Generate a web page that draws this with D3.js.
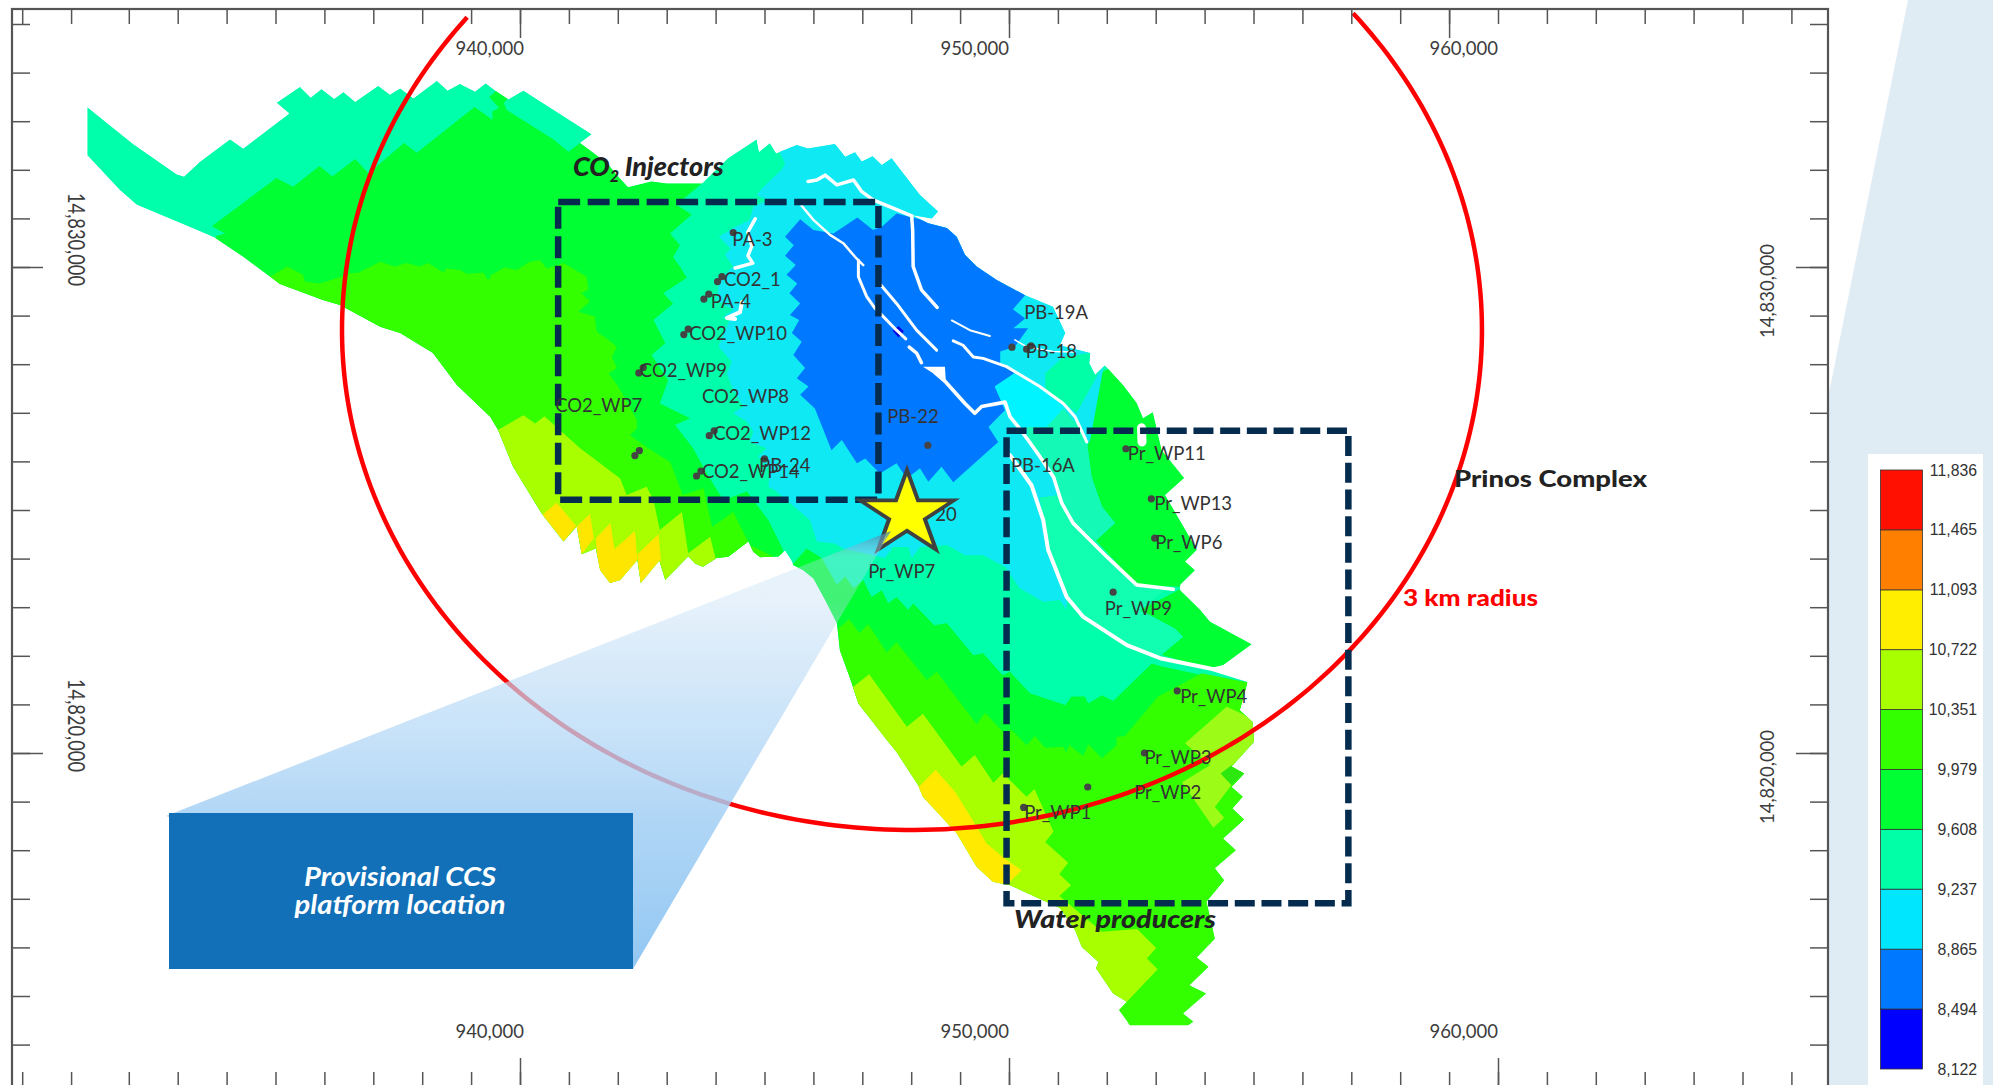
<!DOCTYPE html>
<html>
<head>
<meta charset="utf-8">
<title>Prinos CCS map</title>
<script src="https://cdn.jsdelivr.net/npm/d3@7"></script>
<style>
	html, body { margin: 0; padding: 0; background: #fff; overflow: hidden; }
	text { font-family: Lato, "Noto Sans", sans-serif; }
	.well-label { font-size: 18.5px; fill: #333; }
	.tick-label { font-size: 18.5px; fill: #3c3c3c; }
	.legend-label { font-family: "Liberation Sans", sans-serif; font-size: 15.8px; fill: #333; }
	.fault { fill: none; stroke: #fff; stroke-linejoin: round; stroke-linecap: round; }
</style>
</head>
<body>
<div id="map"></div>
<script>
// grid ticks, metres
const xTicks = [929820, 930820].concat(d3.range(932000, 967000, 1000));
const xTopMajor = [940000, 950000, 959000];
const xBottomMajor = [940000, 950000, 960000];
const xLabels = [940000, 950000, 960000];
const yTicks = d3.range(14835000, 14812000, -1000);
const yMajor = [14830000, 14820000];

// depth legend
const legendBreaks = [8122, 8494, 8865, 9237, 9608, 9979, 10351, 10722, 11093, 11465, 11836];
const legendColors = ['#0000ff', '#0078ff', '#00e6ff', '#00ffa6', '#00ff33', '#33ff00', '#a8ff00', '#ffee00', '#ff8000', '#ff1000'];

// all map polygons: km east of 940,000 and km north of 14,830,000
const fieldOutline = [[-8.85,3.29],[-7.91,2.53],[-7.02,1.91],[-6.87,1.86],[-6.54,2.17],[-5.93,2.63],[-5.66,2.44],[-4.72,3.16],[-4.98,3.38],[-4.50,3.71],[-4.28,3.49],[-4.06,3.66],[-3.80,3.46],[-3.61,3.60],[-3.37,3.40],[-2.90,3.73],[-2.66,3.55],[-2.45,3.68],[-2.18,3.47],[-1.70,3.83],[-1.48,3.63],[-1.23,3.77],[-0.92,3.61],[-0.70,3.78],[-0.48,3.61],[-0.24,3.45],[0.07,3.63],[1.47,2.73],[1.23,2.55],[1.79,2.13],[1.98,1.89],[2.21,1.64],[2.69,1.76],[3.00,1.72],[3.72,1.72],[4.25,2.24],[4.84,2.63],[4.89,2.37],[5.11,2.55],[5.24,2.34],[5.66,2.51],[5.89,2.44],[6.44,2.53],[6.65,2.27],[6.85,2.36],[6.99,2.17],[7.21,2.28],[7.40,2.10],[7.60,2.24],[7.91,1.83],[8.18,1.48],[8.55,1.14],[8.42,1.00],[8.01,1.07],[8.35,0.90],[8.73,0.80],[8.93,0.62],[9.10,0.25],[9.34,0.01],[9.75,-0.27],[10.33,-0.58],[10.90,-0.82],[11.15,-1.36],[11.04,-1.61],[11.66,-1.77],[11.64,-1.98],[11.76,-2.22],[11.96,-2.02],[12.33,-2.43],[12.61,-2.80],[12.74,-3.11],[12.94,-2.99],[13.12,-3.77],[13.58,-4.34],[13.19,-4.69],[13.84,-5.82],[13.60,-6.06],[13.80,-6.24],[13.50,-6.54],[13.50,-6.65],[13.91,-7.06],[14.11,-7.30],[14.96,-7.76],[14.38,-8.19],[14.11,-8.25],[14.89,-8.50],[14.72,-9.12],[14.98,-9.36],[15.01,-9.77],[14.55,-10.28],[14.81,-10.42],[14.55,-10.70],[14.78,-10.90],[14.57,-11.14],[14.81,-11.37],[14.38,-11.76],[14.64,-12.00],[14.21,-12.37],[14.40,-12.62],[14.04,-13.06],[14.21,-13.82],[13.84,-14.21],[14.08,-14.40],[13.69,-14.78],[14.03,-14.95],[13.56,-15.36],[13.77,-15.53],[13.66,-15.60],[12.47,-15.60],[12.41,-15.51],[12.25,-15.29],[12.41,-15.12],[12.13,-14.95],[11.78,-14.43],[11.83,-14.30],[11.49,-13.99],[11.35,-13.64],[11.04,-13.19],[10.02,-12.72],[9.67,-12.65],[9.34,-12.34],[8.93,-11.65],[8.24,-10.90],[8.14,-10.66],[7.70,-9.98],[7.50,-9.73],[6.92,-8.98],[6.75,-8.46],[6.54,-7.88],[6.48,-7.33],[6.24,-6.85],[6.00,-6.41],[5.79,-6.24],[5.58,-6.13],[5.56,-6.06],[5.42,-5.84],[5.28,-5.96],[4.91,-5.97],[4.77,-5.86],[4.67,-5.65],[4.26,-5.96],[4.02,-5.99],[3.74,-6.17],[3.58,-6.10],[3.44,-5.95],[2.97,-6.44],[2.85,-6.04],[2.47,-6.50],[2.40,-6.03],[2.05,-6.44],[1.84,-6.50],[1.64,-6.24],[1.55,-5.79],[1.26,-5.91],[1.16,-5.34],[0.89,-5.65],[0.46,-5.10],[-0.14,-4.11],[-0.45,-3.35],[-0.61,-3.08],[-1.29,-2.43],[-1.78,-1.77],[-2.45,-1.36],[-2.86,-1.23],[-3.68,-0.78],[-4.03,-0.68],[-4.91,-0.35],[-5.66,0.21],[-6.24,0.60],[-6.61,0.76],[-7.84,1.28],[-8.18,1.58],[-8.85,2.30]];

const green9979NW = [[-6.24,0.56],[-6.22,0.64],[-6.03,0.69],[-6.30,0.84],[-4.98,1.83],[-4.64,1.65],[-4.10,2.08],[-3.84,1.86],[-3.37,2.22],[-3.10,1.93],[-2.90,2.10],[-2.37,2.55],[-2.11,2.35],[-0.93,3.29],[-0.56,3.03],[-0.57,3.20],[-0.43,3.27],[-0.63,3.50],[-0.48,3.63],[-0.24,3.47],[-0.33,3.37],[-0.27,3.23],[0.68,2.63],[0.99,2.37],[1.23,2.55],[2.45,2.41],[3.72,1.89],[3.72,1.72],[3.20,1.28],[3.51,1.08],[3.07,0.69],[3.27,0.45],[3.13,0.20],[3.27,0.01],[3.41,-0.22],[2.93,-0.54],[3.13,-0.75],[2.73,-1.09],[2.97,-1.57],[2.69,-1.81],[3.03,-2.33],[2.86,-2.81],[3.48,-3.11],[3.17,-3.25],[3.54,-3.73],[3.82,-4.25],[4.16,-4.80],[4.64,-4.62],[5.08,-5.21],[5.38,-5.82],[5.52,-7.26],[-0.41,-6.85],[-6.54,-0.68]];
const green9979E = [[11.83,-2.19],[11.38,-3.01],[11.59,-3.58],[11.69,-4.32],[11.90,-4.93],[12.17,-5.27],[11.78,-5.63],[12.61,-6.54],[13.50,-6.58],[15.95,-4.79],[12.88,-1.71]];
const green9979SE = [[13.50,-6.63],[12.68,-7.06],[13.39,-7.44],[13.56,-7.61],[13.12,-7.98],[14.11,-8.29],[15.95,-7.88],[14.93,-6.65]];
const green9979S = [[5.58,-6.11],[5.86,-5.79],[6.17,-5.99],[6.48,-6.54],[6.65,-6.37],[6.82,-6.61],[7.02,-6.44],[7.19,-6.79],[7.40,-6.65],[7.53,-6.92],[7.70,-6.79],[7.94,-7.06],[8.04,-6.92],[8.47,-7.37],[8.73,-7.33],[9.27,-7.99],[9.47,-7.95],[9.87,-8.40],[10.02,-8.33],[10.43,-8.77],[10.84,-8.91],[11.15,-9.01],[11.28,-8.84],[11.55,-8.84],[11.62,-8.98],[11.90,-8.81],[12.13,-8.93],[12.92,-8.16],[13.09,-8.21],[15.13,-8.66],[15.13,-10.97],[5.73,-8.91]];

const green10351W = [[-5.11,-0.20],[-4.76,0.01],[-4.44,-0.16],[-4.40,-0.30],[-4.09,-0.34],[-3.75,-0.23],[-3.48,-0.13],[-3.31,-0.12],[-2.86,0.11],[-2.56,0.01],[-2.32,0.08],[-2.05,0.01],[-1.88,0.08],[-1.57,-0.11],[-1.50,-0.03],[-1.23,-0.06],[-1.09,-0.14],[-0.75,-0.12],[-0.65,-0.28],[-0.58,-0.16],[-0.31,-0.01],[-0.07,-0.06],[0.20,0.11],[0.41,0.14],[0.55,-0.03],[0.89,0.08],[1.36,-0.20],[1.40,-0.47],[1.26,-0.54],[1.43,-0.71],[1.19,-0.92],[1.53,-1.02],[1.57,-1.33],[1.81,-1.50],[1.98,-1.64],[1.88,-1.85],[1.98,-2.08],[1.81,-2.19],[2.01,-2.46],[2.39,-3.15],[2.39,-3.32],[2.25,-3.46],[2.62,-3.73],[3.07,-4.01],[3.33,-4.69],[3.75,-4.55],[3.93,-5.35],[4.36,-5.04],[4.70,-5.72],[5.32,-6.03],[5.32,-7.26],[-4.50,-2.74]];
const green10351S = [[6.51,-7.44],[6.73,-7.25],[6.94,-7.53],[7.12,-7.35],[7.50,-7.93],[7.70,-7.72],[8.32,-8.50],[8.52,-8.33],[9.34,-9.41],[9.51,-9.17],[9.87,-9.56],[10.06,-9.53],[10.36,-9.84],[10.53,-9.65],[10.74,-9.89],[11.11,-9.87],[11.17,-9.99],[11.23,-9.84],[11.52,-10.06],[11.62,-9.82],[11.90,-10.11],[12.20,-9.84],[12.20,-9.67],[12.37,-9.65],[13.05,-8.84],[13.94,-8.36],[15.13,-8.60],[15.54,-15.09],[11.86,-16.11],[6.75,-10.97]];

const lime10722W = [[-0.44,-3.35],[0.07,-3.05],[0.31,-3.22],[0.50,-3.07],[1.23,-3.73],[2.05,-4.35],[2.18,-4.69],[2.59,-4.52],[2.73,-4.80],[2.86,-5.41],[3.31,-5.04],[3.44,-5.89],[3.89,-5.55],[3.99,-5.96],[4.29,-7.26],[-0.41,-7.26],[-0.82,-3.56]];
const lime10722S = [[6.80,-8.65],[7.14,-8.38],[7.91,-9.46],[8.24,-9.19],[9.03,-10.28],[9.30,-10.04],[9.68,-10.61],[9.87,-10.42],[10.09,-10.63],[10.36,-10.90],[10.52,-10.74],[10.91,-11.62],[10.74,-11.83],[11.21,-12.26],[11.03,-12.49],[11.27,-12.72],[11.03,-12.94],[11.90,-13.68],[12.62,-13.62],[13.01,-14.01],[12.82,-14.23],[13.04,-14.45],[12.41,-15.12],[11.86,-15.70],[9.82,-14.05],[7.77,-10.97],[6.54,-8.91]];
const lime10722E = [[14.45,-9.05],[15.13,-9.36],[15.13,-9.84],[14.55,-10.28],[14.33,-10.42],[14.55,-10.66],[14.21,-11.11],[14.40,-11.33],[14.18,-11.54],[13.54,-10.60],[14.11,-10.25],[13.60,-9.80]];
const greenDiamond = [[14.33,-10.42],[14.55,-10.25],[14.81,-10.42],[14.55,-10.66]];

const yellowS = [[8.15,-10.70],[8.50,-10.35],[8.90,-10.80],[9.34,-11.52],[9.54,-11.86],[9.95,-12.20],[10.26,-12.41],[9.92,-12.74],[8.79,-12.62],[7.77,-10.97]];
const yellowTooth1 = [[0.46,-5.10],[0.75,-4.85],[1.15,-5.33],[0.89,-5.65]];
const yellowTooth2 = [[1.16,-5.34],[1.43,-5.08],[1.51,-5.58],[1.26,-5.91]];
const yellowTooth3 = [[1.55,-5.58],[1.85,-5.27],[1.93,-5.81],[2.35,-5.43],[2.40,-6.03],[2.05,-6.65],[1.64,-6.65]];
const yellowTooth4 = [[2.40,-5.91],[2.83,-5.50],[2.88,-6.03],[2.47,-6.65]];

const cyanZone = [[5.11,2.82],[5.42,2.13],[5.35,2.00],[4.98,1.65],[4.84,1.48],[5.07,1.38],[4.77,1.24],[4.70,0.97],[4.36,0.80],[4.07,0.62],[4.31,0.38],[4.19,0.25],[4.36,0.01],[4.09,-0.23],[4.02,-0.68],[4.36,-0.88],[4.15,-1.03],[4.29,-1.09],[4.06,-1.64],[4.33,-1.95],[4.23,-2.19],[4.36,-2.53],[4.57,-2.87],[4.36,-3.01],[4.64,-3.18],[4.77,-3.39],[4.70,-3.60],[5.04,-3.73],[4.87,-3.90],[5.11,-4.18],[5.08,-4.52],[5.21,-4.59],[5.93,-5.21],[6.07,-5.65],[6.44,-5.69],[6.61,-5.79],[6.95,-5.87],[7.46,-5.99],[7.63,-5.76],[7.94,-5.76],[8.01,-5.99],[8.18,-5.76],[8.73,-5.72],[9.10,-5.93],[9.47,-5.93],[9.92,-6.17],[10.22,-6.61],[10.70,-6.89],[11.04,-6.85],[11.18,-7.06],[11.18,-6.79],[10.80,-5.82],[10.63,-4.75],[11.04,-4.69],[11.66,-3.56],[11.96,-1.91],[11.04,-0.47],[7.77,2.82]];
const blueZone = [[5.42,0.62],[5.60,0.45],[5.42,0.23],[5.64,0.04],[5.45,-0.16],[5.67,-0.34],[5.51,-0.54],[5.73,-0.75],[5.52,-0.99],[5.71,-1.09],[5.56,-1.36],[5.76,-1.54],[5.59,-1.81],[5.83,-2.08],[5.66,-2.29],[5.90,-2.46],[5.73,-2.63],[6.03,-2.91],[6.37,-3.77],[6.58,-3.56],[6.89,-4.04],[7.06,-3.94],[7.36,-4.25],[7.70,-4.04],[7.91,-4.35],[8.18,-4.14],[8.35,-4.42],[8.62,-4.11],[8.86,-4.43],[9.78,-3.60],[9.58,-3.29],[9.92,-2.94],[9.71,-2.46],[10.12,-2.18],[9.82,-1.98],[9.82,-1.74],[10.12,-1.64],[10.39,-1.26],[10.09,-1.26],[10.33,-1.06],[10.08,-0.87],[10.33,-0.58],[9.82,0.35],[9.00,0.72],[8.38,0.93],[8.02,1.02],[7.70,1.10],[7.40,0.83],[7.22,0.76],[6.90,1.02],[6.41,0.69],[6.00,0.76],[5.73,0.98]];
const deepBlueSpot = [[7.62,-1.31],[7.74,-1.22],[7.85,-1.32],[7.74,-1.45]];
const brightCyanZone = [[9.71,-2.46],[10.12,-2.18],[10.84,-2.57],[11.19,-2.84],[11.11,-2.91],[10.77,-3.29],[10.18,-3.31],[9.92,-2.94]];
const seafoamCore = [[10.77,-3.29],[11.11,-2.91],[11.39,-3.23],[11.59,-3.58],[11.69,-4.32],[11.90,-4.93],[12.17,-5.27],[11.78,-5.63],[11.31,-5.27],[11.08,-4.86],[10.91,-4.32],[10.63,-3.90],[10.39,-3.56],[10.36,-3.29]];
const seafoamNE = [[11.11,-1.85],[12.06,-1.71],[11.83,-2.19],[11.38,-3.01],[11.19,-2.84],[10.74,-2.57],[10.74,-2.19]];
const seafoamBlock = [[10.63,-4.75],[11.04,-4.69],[11.08,-4.86],[11.31,-5.27],[12.00,-5.96],[12.61,-6.54],[13.19,-6.65],[12.68,-7.06],[13.39,-7.44],[13.56,-7.61],[13.12,-7.98],[12.41,-7.78],[11.52,-7.20],[11.18,-6.79],[10.80,-5.82]];
const faultBlob = [[8.24,-2.05],[8.69,-2.05],[8.71,-2.37],[8.49,-2.21]];

// fault traces and their widths
const faultTraces = [
	[[5.89,1.76],[6.07,1.79],[6.24,1.89],[6.48,1.69],[6.82,1.79],[6.99,1.55],[7.22,1.38],[7.63,1.21],[8.01,1.05]],
	[[8.01,1.05],[8.03,0.76],[8.04,0.01],[8.21,-0.47],[8.53,-0.83]],
	[[5.76,1.26],[6.00,0.97],[6.34,0.66],[6.61,0.49],[6.85,0.21],[7.02,0.04]],
	[[6.92,0.14],[6.92,-0.20],[7.09,-0.61],[7.26,-0.85],[7.40,-0.99],[7.70,-1.30],[7.89,-1.48]],
	[[7.38,-0.37],[7.70,-0.75],[8.11,-1.30],[8.52,-1.71]],
	[[7.96,-1.65],[8.11,-1.77],[8.21,-1.97]],
	[[8.49,-2.18],[8.71,-2.37],[9.10,-2.81],[9.30,-3.01],[9.44,-2.87],[9.92,-2.78],[10.02,-3.08],[10.19,-3.29],[10.39,-3.56],[10.63,-3.90],[10.91,-4.32],[11.08,-4.86],[11.31,-5.27],[12.00,-5.96],[12.61,-6.54],[13.36,-6.63]],
	[[8.83,-1.10],[9.20,-1.30],[9.61,-1.42]],
	[[8.86,-1.52],[9.06,-1.61],[9.27,-1.85],[9.47,-1.88],[9.95,-2.05],[10.63,-2.46],[11.11,-2.81],[11.35,-3.08],[11.59,-3.60]],
	[[10.12,-1.50],[10.36,-1.64],[10.90,-1.74],[11.35,-1.75]],
	[[10.02,-3.87],[10.46,-4.49],[10.70,-5.21],[10.80,-5.82],[11.18,-6.79],[11.52,-7.20],[12.41,-7.78],[13.09,-8.05],[14.11,-8.26],[14.89,-8.50]],
	[[12.71,-3.31],[12.72,-3.60]],
	[[4.81,0.99],[4.66,0.72],[4.74,0.43],[4.66,0.23],[4.76,0.08],[4.40,-0.02]],
	[[4.54,-0.72],[4.50,-0.93],[4.23,-1.05],[4.40,-1.07]]
];
const faultWidths = [3.5, 3.5, 2.5, 3, 3, 3.5, 3.6, 2, 3, 1.5, 4, 9, 3.5, 4];

// wells
const wellSpots = [[4.36,0.71],[4.13,-0.20],[4.04,-0.30],[3.86,-0.56],[3.76,-0.66],[3.44,-1.28],[3.35,-1.39],[2.52,-2.07],[2.43,-2.18],[2.44,-3.78],[2.35,-3.88],[3.97,-3.37],[3.87,-3.47],[3.70,-4.20],[3.61,-4.30],[5.00,-3.95],[8.34,-3.67],[10.06,-1.65],[10.45,-1.62],[10.36,-1.69],[12.39,-3.74],[12.91,-4.77],[12.98,-5.58],[12.13,-6.69],[13.44,-8.72],[12.77,-10.00],[11.61,-10.70],[10.30,-11.12]];
const wellNames = ['PA-3', 'CO2_1', 'PA-4', 'CO2_WP10', 'CO2_WP9', 'CO2_WP8', 'CO2_WP7', 'CO2_WP12', 'PB-24', 'CO2_WP14', 'PB-22', '20', 'Pr_WP7', 'PB-19A', 'PB-18', 'PB-16A', 'Pr_WP11', 'Pr_WP13', 'Pr_WP6', 'Pr_WP9', 'Pr_WP4', 'Pr_WP3', 'Pr_WP2', 'Pr_WP1'];
const wellLabelSpots = [[4.34,0.43],[4.17,-0.39],[3.90,-0.84],[3.46,-1.50],[2.45,-2.26],[3.72,-2.80],[0.72,-2.98],[3.95,-3.56],[4.89,-4.22],[3.72,-4.34],[7.51,-3.20],[8.49,-5.23],[7.12,-6.39],[10.31,-1.07],[10.34,-1.87],[10.04,-4.22],[12.43,-3.97],[12.97,-5.00],[12.99,-5.80],[11.96,-7.16],[13.50,-8.97],[12.77,-10.22],[12.56,-10.95],[10.31,-11.36]];

// well groups, 3 km ring and platform
const injectorBox = [[0.78,1.34],[7.33,-4.79]];
const producerBox = [[9.95,-3.37],[16.94,-13.09]];
const ringCentre = [8.016,-1.296];
const ringRadii = [11.656,10.288];
const platformSpot = [7.914,-5.082];

class ReservoirMap {
	constructor(_config) {
		this.config = {
			parentElement: _config.parentElement,
			containerWidth: 1993,
			containerHeight: 1085,
			frame: { left: 12, top: 9, right: 1828 },
		};
		this.initVis();
	}

	initVis() {
		let vis = this;

		vis.svg = d3.select(vis.config.parentElement)
			.append('svg')
			.attr('width', vis.config.containerWidth)
			.attr('height', vis.config.containerHeight)
			.style('display', 'block');

		vis.x = d3.scaleLinear().domain([940000, 960000]).range([520, 1498]);
		vis.y = d3.scaleLinear().domain([14830000, 14820000]).range([267, 753]);
		vis.px = d => vis.x(940000 + d[0] * 1000);
		vis.py = d => vis.y(14830000 + d[1] * 1000);
		vis.line = d3.line().x(vis.px).y(vis.py);

		vis.legendY = d3.scaleLinear().domain([8122, 11836]).range([1069, 470]);
	}

	renderVis() {
		this._drawBackdrop();
		this._drawField();
		this._drawRing();
		this._drawBoxes();
		this._drawWells();
		this._drawPlatform();
		this._drawAxes();
		this._drawLegend();
		this._drawNotes();
	}

	_drawBackdrop() {
		let vis = this;
		vis.svg.append('path')
			.attr('d', 'M1828,398 L1908,0 L1993,0 L1993,1085 L1828,1085 Z')
			.attr('fill', '#dfecf4');
	}

	_drawField() {
		let vis = this;

		vis.svg.append('clipPath').attr('id', 'field-clip')
			.append('path').attr('d', vis.line(fieldOutline) + 'Z');

		const field = vis.svg.append('g').attr('clip-path', 'url(#field-clip)');

		const layers = [
			[fieldOutline, '#00ffaa'],
			[green9979NW, '#00ff33'], [green9979E, '#00ff33'], [green9979SE, '#00ff33'], [green9979S, '#00ff33'],
			[green10351W, '#33ff00'], [green10351S, '#33ff00'],
			[lime10722W, '#a8ff00'], [lime10722S, '#a8ff00'], [lime10722E, '#9cfc18'], [greenDiamond, '#2ce80f'],
			[yellowS, '#ffea00'], [yellowTooth1, '#ffe600'], [yellowTooth2, '#ffe600'], [yellowTooth3, '#ffe600'], [yellowTooth4, '#ffe600'],
			[cyanZone, '#0ee9f3'], [blueZone, '#0078ff'], [deepBlueSpot, '#0000e0'], [brightCyanZone, '#00f4ff'],
			[seafoamCore, '#14f9b5'], [seafoamNE, '#00ffa6'], [seafoamBlock, '#10ffb0'],
		];

		field.selectAll('.zone')
			.data(layers)
			.join('path')
			.attr('class', 'zone')
			.attr('d', d => vis.line(d[0]) + 'Z')
			.attr('fill', d => d[1]);

		field.append('path').attr('d', vis.line(faultBlob) + 'Z').attr('fill', '#fff');

		vis.svg.selectAll('.fault')
			.data(faultTraces)
			.join('path')
			.attr('class', 'fault')
			.attr('d', d => vis.line(d))
			.attr('stroke-width', (d, i) => faultWidths[i]);
	}

	_drawRing() {
		let vis = this;
		// ellipse on the page, cut at the top of the frame
		const angles = d3.range(39.3, -219.4, -1).map(d => d * Math.PI / 180);
		const ring = angles.map(a => [ringCentre[0] + ringRadii[0] * Math.cos(a), ringCentre[1] + ringRadii[1] * Math.sin(a)]);
		vis.svg.append('path')
			.attr('d', vis.line(ring))
			.attr('fill', 'none')
			.attr('stroke', '#ff0000')
			.attr('stroke-width', 4.5);
	}

	_drawBoxes() {
		let vis = this;
		const boxes = [
			{ box: injectorBox, dash: '22 7.5' },
			{ box: producerBox, dash: '20 6.7' },
		];
		vis.svg.selectAll('.group-box')
			.data(boxes)
			.join('rect')
			.attr('class', 'group-box')
			.attr('x', d => vis.px(d.box[0]))
			.attr('y', d => vis.py(d.box[0]))
			.attr('width', d => vis.px(d.box[1]) - vis.px(d.box[0]))
			.attr('height', d => vis.py(d.box[1]) - vis.py(d.box[0]))
			.attr('fill', 'none')
			.attr('stroke', '#052c4f')
			.attr('stroke-width', 6.5)
			.attr('stroke-dasharray', d => d.dash);
	}

	_drawWells() {
		let vis = this;
		vis.svg.selectAll('.well')
			.data(wellSpots)
			.join('circle')
			.attr('class', 'well')
			.attr('cx', vis.px)
			.attr('cy', vis.py)
			.attr('r', 3.6)
			.attr('fill', '#444');

		vis.svg.selectAll('.well-label')
			.data(wellNames)
			.join('text')
			.attr('class', 'well-label')
			.attr('x', (d, i) => vis.px(wellLabelSpots[i]))
			.attr('y', (d, i) => vis.py(wellLabelSpots[i]))
			.text(d => d);
	}

	_drawPlatform() {
		let vis = this;

		vis.svg.append('path')
			.attr('d', d3.symbol(d3.symbolStar, 2173)())
			.attr('transform', `translate(${vis.px(platformSpot)},${vis.py(platformSpot)}) scale(1.12,1)`)
			.attr('fill', '#ffff00')
			.attr('stroke', '#404040')
			.attr('stroke-width', 3.6);

		const defs = vis.svg.append('defs');
		const grad = defs.append('linearGradient')
			.attr('id', 'callout-fade')
			.attr('gradientUnits', 'userSpaceOnUse')
			.attr('x1', 0).attr('y1', 969).attr('x2', 0).attr('y2', 531);
		[
			[0, '#8cc4f2', 0.95], [0.35, '#a3cff4', 0.85], [0.62, '#bcdcf7', 0.7],
			[0.84, '#b9d8f3', 0.35], [0.94, '#bcdfef', 0.35], [1, '#3f7fa6', 0.8],
		].forEach(s => grad.append('stop')
			.attr('offset', s[0]).attr('stop-color', s[1]).attr('stop-opacity', s[2]));

		vis.svg.append('path')
			.attr('d', 'M891,531 L166,816 L633,969 Z')
			.attr('fill', 'url(#callout-fade)');

		vis.svg.append('rect')
			.attr('x', 169).attr('y', 813)
			.attr('width', 464).attr('height', 156)
			.attr('fill', '#1270b8');

		vis.svg.selectAll('.platform-text')
			.data(['Provisional CCS', 'platform location'])
			.join('text')
			.attr('class', 'platform-text')
			.attr('x', 400)
			.attr('y', (d, i) => 886 + i * 28)
			.attr('text-anchor', 'middle')
			.attr('fill', '#fff')
			.attr('font-size', 26)
			.attr('font-weight', 700)
			.attr('font-style', 'italic')
			.attr('textLength', (d, i) => [192, 211][i])
			.attr('lengthAdjust', 'spacingAndGlyphs')
			.text(d => d);
	}

	_drawAxes() {
		let vis = this;
		const { left, top, right } = vis.config.frame;
		const strip = g => g.call(s => s.select('.domain').remove())
			.call(s => s.selectAll('line').attr('stroke', '#555').attr('stroke-width', 1.5));

		vis.svg.append('g').attr('transform', `translate(0,${top})`)
			.call(d3.axisBottom(vis.x).tickValues(xTicks).tickSize(15).tickFormat('')).call(strip);
		vis.svg.append('g').attr('transform', `translate(0,${top})`)
			.call(d3.axisBottom(vis.x).tickValues(xTopMajor).tickSize(29).tickFormat('')).call(strip);
		vis.svg.append('g').attr('transform', 'translate(0,1085)')
			.call(d3.axisTop(vis.x).tickValues(xTicks).tickSize(13).tickFormat('')).call(strip);
		vis.svg.append('g').attr('transform', 'translate(0,1085)')
			.call(d3.axisTop(vis.x).tickValues(xBottomMajor).tickSize(27).tickFormat('')).call(strip);
		vis.svg.append('g').attr('transform', `translate(${left},0)`)
			.call(d3.axisRight(vis.y).tickValues(yTicks).tickSize(18).tickFormat('')).call(strip);
		vis.svg.append('g').attr('transform', `translate(${left},0)`)
			.call(d3.axisRight(vis.y).tickValues(yMajor).tickSize(31).tickFormat('')).call(strip);
		vis.svg.append('g').attr('transform', `translate(${right},0)`)
			.call(d3.axisLeft(vis.y).tickValues(yTicks).tickSize(18).tickFormat('')).call(strip);
		vis.svg.append('g').attr('transform', `translate(${right},0)`)
			.call(d3.axisLeft(vis.y).tickValues(yMajor).tickSize(32).tickFormat('')).call(strip);

		vis.svg.append('rect')
			.attr('x', left).attr('y', top)
			.attr('width', right - left).attr('height', 1200)
			.attr('fill', 'none')
			.attr('stroke', '#555')
			.attr('stroke-width', 2.2);

		const fmt = d3.format(',');
		[55, 1038].forEach(base => {
			vis.svg.append('g').selectAll('text')
				.data(xLabels)
				.join('text')
				.attr('class', 'tick-label')
				// the 940,000 label hangs a little past its tick
				.attr('x', d => vis.x(d) + (d === 940000 ? 4 : 0))
				.attr('y', base)
				.attr('text-anchor', 'end')
				.text(fmt);
		});

		vis.svg.append('g').selectAll('text')
			.data(yMajor)
			.join('text')
			.attr('transform', d => `translate(68,${vis.y(d) - 74}) rotate(90)`)
			.attr('font-family', '"Liberation Sans", sans-serif')
			.attr('font-size', 23)
			.attr('fill', '#3c3c3c')
			.attr('textLength', 93)
			.attr('lengthAdjust', 'spacingAndGlyphs')
			.text(fmt);

		vis.svg.append('g').selectAll('text')
			.data(yMajor)
			.join('text')
			.attr('class', 'tick-label')
			.attr('transform', d => `translate(1774,${vis.y(d) + 71}) rotate(-90)`)
			.attr('textLength', 94)
			.attr('lengthAdjust', 'spacingAndGlyphs')
			.text(fmt);
	}

	_drawLegend() {
		let vis = this;

		vis.svg.append('rect')
			.attr('x', 1868).attr('y', 454)
			.attr('width', 115).attr('height', 631)
			.attr('fill', '#fff');

		vis.svg.selectAll('.legend-cell')
			.data(d3.pairs(legendBreaks))
			.join('rect')
			.attr('class', 'legend-cell')
			.attr('x', 1880.5)
			.attr('y', d => vis.legendY(d[1]))
			.attr('width', 42)
			.attr('height', d => vis.legendY(d[0]) - vis.legendY(d[1]))
			.attr('fill', (d, i) => legendColors[i])
			.attr('stroke', '#333')
			.attr('stroke-width', 0.8);

		vis.svg.selectAll('.legend-label')
			.data(legendBreaks)
			.join('text')
			.attr('class', 'legend-label')
			.attr('x', 1977)
			.attr('y', d => vis.legendY(d) + 5.5)
			.attr('text-anchor', 'end')
			.text(d3.format(','));
	}

	_drawNotes() {
		let vis = this;

		const co2 = vis.svg.append('text')
			.attr('x', 573).attr('y', 176)
			.attr('font-size', 27).attr('font-weight', 900).attr('font-style', 'italic')
			.attr('fill', '#222');
		co2.append('tspan').text('CO');
		co2.append('tspan').attr('dy', 6).attr('font-size', 16).text('2');
		co2.append('tspan').attr('dy', -6).text(' Injectors');

		vis.svg.append('text')
			.attr('x', 1014).attr('y', 928)
			.attr('font-size', 25).attr('font-weight', 900).attr('font-style', 'italic')
			.attr('fill', '#222')
			.attr('textLength', 202)
			.attr('lengthAdjust', 'spacingAndGlyphs')
			.text('Water producers');

		vis.svg.append('text')
			.attr('x', 1454).attr('y', 487)
			.attr('font-size', 23).attr('font-weight', 900)
			.attr('fill', '#222')
			.attr('textLength', 193)
			.attr('lengthAdjust', 'spacingAndGlyphs')
			.text('Prinos Complex');

		vis.svg.append('text')
			.attr('x', 1403).attr('y', 606)
			.attr('font-size', 23).attr('font-weight', 900)
			.attr('fill', '#ff0000')
			.attr('textLength', 135)
			.attr('lengthAdjust', 'spacingAndGlyphs')
			.text('3 km radius');
	}
}

const reservoirMap = new ReservoirMap({ parentElement: '#map' });
reservoirMap.renderVis();
</script>
</body>
</html>
